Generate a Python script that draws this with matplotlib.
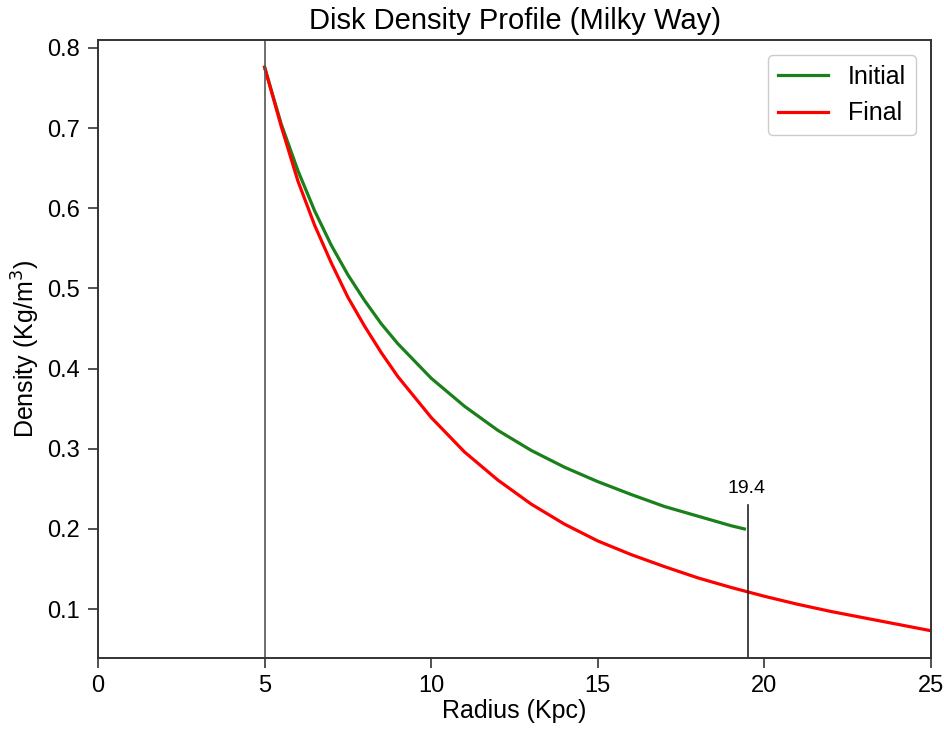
import matplotlib
matplotlib.use('Agg')
import matplotlib.pyplot as plt

plt.rcParams['font.family'] = ['Liberation Sans', 'DejaVu Sans']

# values
radius_initial = [5, 5.5, 6, 6.5, 7, 7.5, 8, 8.5, 9, 10, 11, 12, 13, 14, 15, 16, 17, 18, 19, 19.4]
density_initial = [0.776, 0.705, 0.647, 0.597, 0.554, 0.517, 0.485, 0.456, 0.431, 0.388,
                   0.353, 0.323, 0.298, 0.277, 0.259, 0.243, 0.228, 0.216, 0.204, 0.200]

radius_final = [5, 5.5, 6, 6.5, 7, 7.5, 8, 8.5, 9, 10, 11, 12, 13, 14, 15, 16, 17, 18, 19, 20,
                21, 22, 23, 24, 25]
density_final = [0.776, 0.702, 0.634, 0.579, 0.532, 0.489, 0.453, 0.420, 0.390, 0.339,
                 0.296, 0.261, 0.231, 0.206, 0.185, 0.168, 0.153, 0.139, 0.127, 0.116,
                 0.106, 0.097, 0.089, 0.081, 0.073]

r_inner = 5
r_cut = 19.5
cut_label = '19.4'
cut_top = 0.23

fig = plt.figure(figsize=(9.45, 7.32), dpi=100)
ax = fig.add_axes([0.1037, 0.1011, 0.8815, 0.8443])

ax.plot(radius_initial, density_initial, color='#1a801a', lw=2.3, label='Initial')
ax.plot(radius_final, density_final, color='#ff0000', lw=2.3, label='Final')

ax.axvline(r_inner, color='#555555', lw=1.2)
ax.plot([r_cut, r_cut], [0.0, cut_top], color='#222222', lw=1.2)
ax.text(r_cut - 0.05, cut_top + 0.010, cut_label, ha='center', va='bottom', fontsize=14)

ax.set_xlim(0, 25)
ax.set_ylim(0.039, 0.81)
ax.set_xticks([0, 5, 10, 15, 20, 25])
ax.set_yticks([0.1, 0.2, 0.3, 0.4, 0.5, 0.6, 0.7, 0.8])

ax.tick_params(direction='out', length=7, width=1.2, labelsize=17, colors='#333333',
               labelcolor='black')
ax.tick_params(axis='y', pad=6)
ax.tick_params(axis='x', pad=5)
for s in ax.spines.values():
    s.set_color('#333333')
    s.set_linewidth(1.4)

ax.set_xlabel('Radius (Kpc)', fontsize=18, labelpad=2)
ax.set_ylabel('Density (Kg/m$^3$)', fontsize=18, labelpad=4)
ax.set_title('Disk Density Profile (Milky Way)', fontsize=21, pad=8)

leg = ax.legend(loc='upper right', fontsize=18, handlelength=2.0, fancybox=True,
                edgecolor='#cccccc', framealpha=1.0, borderaxespad=0.6)

fig.savefig('out.png', dpi=100)
